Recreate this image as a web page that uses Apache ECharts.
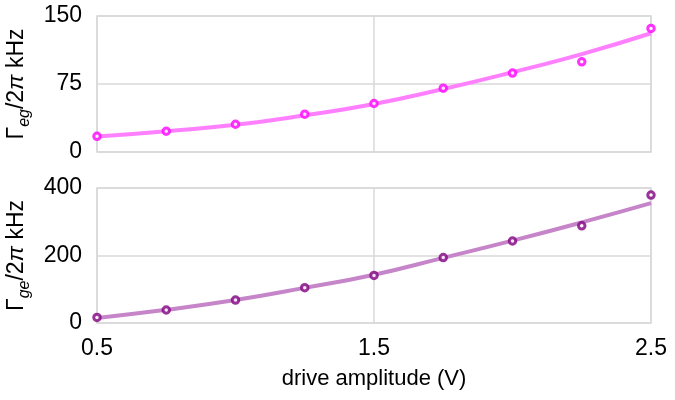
<!DOCTYPE html>
<html>
<head>
<meta charset="utf-8">
<script src="https://cdn.jsdelivr.net/npm/echarts@6/dist/echarts.min.js"></script>
<style>
  html, body { margin: 0; padding: 0; background: #fff; }
  #chart { width: 675px; height: 400px; }
</style>
</head>
<body>
<div id="chart"></div>
<script>
// drive amplitude (V)
var xVals = [0.5, 0.75, 1.0, 1.25, 1.5, 1.75, 2.0, 2.25, 2.5]
// Gamma_eg / 2pi (kHz)
var egPoints = [17.3, 22.9, 30.6, 41.7, 53.5, 70.4, 87, 99.5, 136.3]
var egFit = [17, 23, 30, 40.5, 53, 69.5, 88, 108, 131]
// Gamma_ge / 2pi (kHz)
var gePoints = [16.6, 38.5, 68, 104.6, 141, 194, 243, 288, 379]
var geFit = [15, 39, 68, 104, 143, 193, 244, 298, 355]

var topTicks = { min: 0, max: 150, interval: 75 }
var bottomTicks = { min: 0, max: 400, interval: 200 }
var xTicks = { min: 0.5, max: 2.5, interval: 1 }

function pairs(ys){
  return xVals.map(function(x, i){ return [x, ys[i]] })
}

var font = 'Liberation Sans, Arial, sans-serif'
var gridColor = '#d9d9d9'

function yName(sub){
  return '{a|Γ}{s|' + sub + '}{a|/2}{i|π}{a| kHz}'
}
var nameRich = {
  a: { fontSize: 23, fontFamily: font, color: '#000', lineHeight: 28, verticalAlign: 'bottom' },
  i: { fontSize: 23, fontFamily: font, fontStyle: 'italic', color: '#000', lineHeight: 28, verticalAlign: 'bottom' },
  s: { fontSize: 16, fontFamily: font, fontStyle: 'italic', color: '#000', lineHeight: 28, verticalAlign: 'bottom', padding: [0, 0, -5, 0] }
}

function xAxis(idx, showLabels){
  return {
    type: 'value', gridIndex: idx,
    min: xTicks.min, max: xTicks.max, interval: xTicks.interval,
    axisLine: { show: false }, axisTick: { show: false },
    splitLine: { show: true, lineStyle: { color: gridColor, width: 1.5 } },
    axisLabel: { show: showLabels, fontSize: 23, fontFamily: font, color: '#000', margin: 14 },
    name: showLabels ? 'drive amplitude (V)' : '',
    nameLocation: 'middle', nameGap: 45,
    nameTextStyle: { fontSize: 22, fontFamily: font, color: '#000' }
  }
}
function yAxis(idx, ticks, sub){
  return {
    type: 'value', gridIndex: idx,
    min: ticks.min, max: ticks.max, interval: ticks.interval,
    axisLine: { show: false }, axisTick: { show: false },
    splitLine: { show: true, lineStyle: { color: gridColor, width: 1.5 } },
    axisLabel: { fontSize: 23, fontFamily: font, color: '#000', margin: 15 },
    name: yName(sub), nameLocation: 'middle', nameRotate: 90, nameGap: 64,
    nameTextStyle: { rich: nameRich }
  }
}
function fitSeries(idx, ys, color){
  return {
    type: 'line', xAxisIndex: idx, yAxisIndex: idx, data: pairs(ys),
    smooth: true, showSymbol: false, symbol: 'none',
    lineStyle: { color: color, width: 4 }, z: 2, silent: true
  }
}
function pointSeries(idx, ys, color){
  return {
    type: 'scatter', xAxisIndex: idx, yAxisIndex: idx, data: pairs(ys),
    symbol: 'circle', symbolSize: 6.5,
    itemStyle: { color: '#fff', borderColor: color, borderWidth: 3 }, z: 3
  }
}

var chart = echarts.init(document.getElementById('chart'))
chart.setOption({
  animation: false,
  grid: [
    { left: 97, right: 24, top: 16, height: 136, show: true, borderColor: gridColor, borderWidth: 1.5, outerBoundsMode: 'none' },
    { left: 97, right: 24, top: 188, height: 135, show: true, borderColor: gridColor, borderWidth: 1.5, outerBoundsMode: 'none' }
  ],
  xAxis: [xAxis(0, false), xAxis(1, true)],
  yAxis: [yAxis(0, topTicks, 'eg'), yAxis(1, bottomTicks, 'ge')],
  series: [
    fitSeries(0, egFit, '#ff80ff'),
    pointSeries(0, egPoints, '#ff00ff'),
    fitSeries(1, geFit, '#c585c8'),
    pointSeries(1, gePoints, '#800080')
  ]
})
</script>
</body>
</html>
